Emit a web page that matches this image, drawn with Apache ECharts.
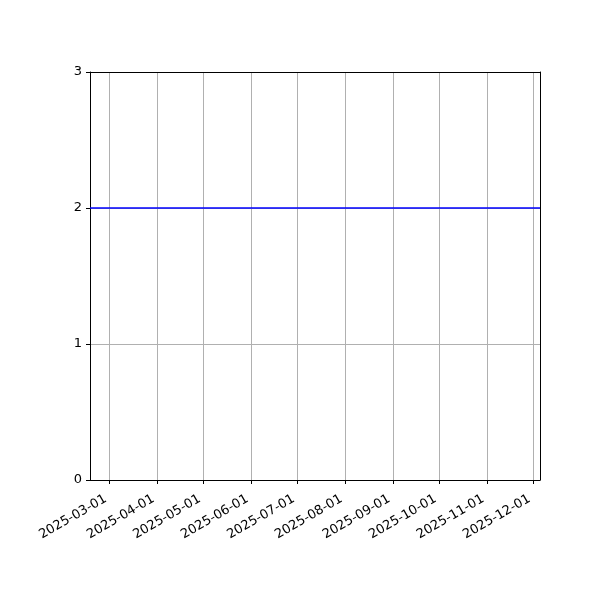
<!DOCTYPE html>
<html>
<head>
<meta charset="utf-8">
<script src="https://cdn.jsdelivr.net/npm/echarts@6/dist/echarts.min.js"></script>
<style>html,body{margin:0;padding:0;background:#fff}#main{width:600px;height:600px}</style>
</head>
<body>
<div id="main"></div>
<script>
// 数据
var lineDates = ['2025-02-16 12:00', '2025-12-05 12:00'];
var lineValues = [2, 2];
var monthTicks = ['2025-03-01', '2025-04-01', '2025-05-01', '2025-06-01', '2025-07-01',
                  '2025-08-01', '2025-09-01', '2025-10-01', '2025-11-01', '2025-12-01'];
var yTicks = [0, 1, 2, 3];

function ts(s){ return new Date(s.replace(' ', 'T') + (s.length > 10 ? ':00' : 'T00:00:00')).getTime(); }
function pad(n){ return n < 10 ? '0' + n : '' + n; }

var tickVals = monthTicks.map(ts);
var seriesData = [];
for (var i = 0; i < lineDates.length; i++) {
	seriesData.push([ts(lineDates[i]), lineValues[i]]);
}
var xMin = seriesData[0][0];
var xMax = seriesData[seriesData.length - 1][0];

var myChart = echarts.init(document.getElementById('main'));
var option = {
	animation: false,
	grid: {
		left: 90, right: 60, top: 72, bottom: 120,
		show: false
	},
	xAxis: [{
		type: 'value',
		min: xMin,
		max: xMax,
		axisLine: { show: true, lineStyle: { color: '#000', width: 1 } },
		axisTick: { show: true, length: 4, customValues: tickVals, lineStyle: { color: '#000' } },
		axisLabel: {
			customValues: tickVals,
			rotate: 30,
			color: '#000',
			fontSize: 13,
			fontFamily: 'DejaVu Sans',
			margin: 16,
			formatter: function (v) {
				var d = new Date(v);
				return d.getFullYear() + '-' + pad(d.getMonth() + 1) + '-' + pad(d.getDate()) + ' ';
			}
		},
		splitLine: { show: true, lineStyle: { color: '#b0b0b0', width: 1 } }
	}, {
		// 上边框
		type: 'value', position: 'top', min: xMin, max: xMax,
		axisLine: { show: true, onZero: false, lineStyle: { color: '#000', width: 1 } },
		axisTick: { show: false }, axisLabel: { show: false }, splitLine: { show: false }
	}],
	yAxis: [{
		type: 'value',
		min: yTicks[0],
		max: yTicks[yTicks.length - 1],
		interval: 1,
		axisLine: { show: true, lineStyle: { color: '#000', width: 1 } },
		axisTick: { show: true, length: 4, lineStyle: { color: '#000' } },
		axisLabel: { color: '#000', fontSize: 13, fontFamily: 'DejaVu Sans', margin: 8 },
		splitLine: { show: true, lineStyle: { color: ['#000', '#b0b0b0', '#b0b0b0', '#000'], width: 1 } }
	}, {
		// 右边框
		type: 'value', position: 'right', min: yTicks[0], max: yTicks[yTicks.length - 1],
		axisLine: { show: true, onZero: false, lineStyle: { color: '#000', width: 1 } },
		axisTick: { show: false }, axisLabel: { show: false }, splitLine: { show: false }
	}],
	series: [{
		type: 'line',
		data: seriesData,
		showSymbol: false,
		lineStyle: { color: '#0000ff', width: 1.5 },
		itemStyle: { color: '#0000ff' }
	}]
};
myChart.setOption(option);
</script>
</body>
</html>
